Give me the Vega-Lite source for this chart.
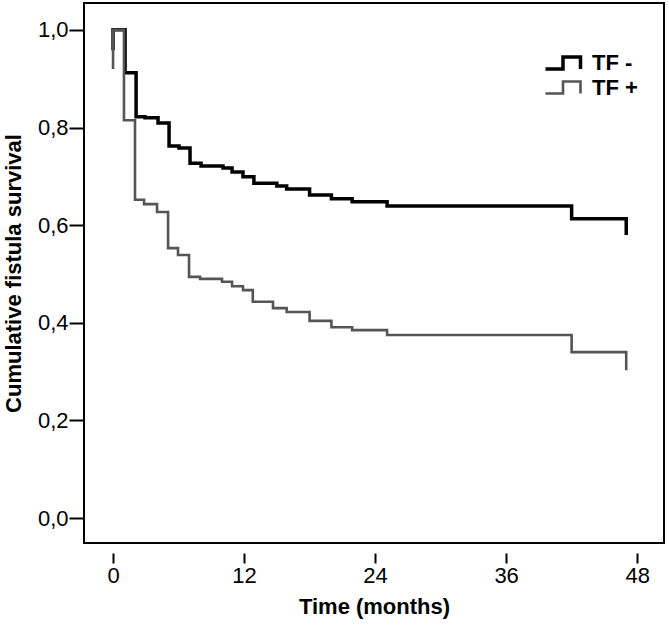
{
  "$schema": "https://vega.github.io/schema/vega-lite/v6.json",
  "width": 580,
  "height": 540,
  "autosize": "none",
  "padding": {"left": 84, "top": 3, "right": 5, "bottom": 84},
  "background": "white",
  "config": {
    "view": {"stroke": "black", "strokeWidth": 2},
    "font": "Liberation Sans"
  },
  "data": {
    "values": [
      {"group": "TF -", "i": 1, "months": 0, "survival": 0.958},
      {"group": "TF -", "i": 2, "months": 0, "survival": 1.0},
      {"group": "TF -", "i": 3, "months": 1.1, "survival": 0.912},
      {"group": "TF -", "i": 4, "months": 2.11, "survival": 0.822},
      {"group": "TF -", "i": 5, "months": 2.93, "survival": 0.82},
      {"group": "TF -", "i": 6, "months": 4.12, "survival": 0.809},
      {"group": "TF -", "i": 7, "months": 5.13, "survival": 0.762},
      {"group": "TF -", "i": 8, "months": 6.04, "survival": 0.758},
      {"group": "TF -", "i": 9, "months": 7.05, "survival": 0.727},
      {"group": "TF -", "i": 10, "months": 8.06, "survival": 0.721},
      {"group": "TF -", "i": 11, "months": 10.07, "survival": 0.717},
      {"group": "TF -", "i": 12, "months": 10.9, "survival": 0.709},
      {"group": "TF -", "i": 13, "months": 11.9, "survival": 0.699},
      {"group": "TF -", "i": 14, "months": 12.9, "survival": 0.686},
      {"group": "TF -", "i": 15, "months": 15.0, "survival": 0.68},
      {"group": "TF -", "i": 16, "months": 15.9, "survival": 0.674},
      {"group": "TF -", "i": 17, "months": 18.0, "survival": 0.662},
      {"group": "TF -", "i": 18, "months": 20.0, "survival": 0.654},
      {"group": "TF -", "i": 19, "months": 21.9, "survival": 0.648},
      {"group": "TF -", "i": 20, "months": 25.1, "survival": 0.639},
      {"group": "TF -", "i": 21, "months": 42.0, "survival": 0.613},
      {"group": "TF -", "i": 22, "months": 47.0, "survival": 0.58},
      {"group": "TF +", "i": 1, "months": 0, "survival": 0.92},
      {"group": "TF +", "i": 2, "months": 0, "survival": 1.0},
      {"group": "TF +", "i": 3, "months": 1.0, "survival": 0.815},
      {"group": "TF +", "i": 4, "months": 2.01, "survival": 0.652},
      {"group": "TF +", "i": 5, "months": 2.84, "survival": 0.643},
      {"group": "TF +", "i": 6, "months": 4.03, "survival": 0.627},
      {"group": "TF +", "i": 7, "months": 5.04, "survival": 0.553},
      {"group": "TF +", "i": 8, "months": 5.95, "survival": 0.539},
      {"group": "TF +", "i": 9, "months": 6.96, "survival": 0.494},
      {"group": "TF +", "i": 10, "months": 7.97, "survival": 0.49},
      {"group": "TF +", "i": 11, "months": 9.98, "survival": 0.484},
      {"group": "TF +", "i": 12, "months": 10.9, "survival": 0.475},
      {"group": "TF +", "i": 13, "months": 11.9, "survival": 0.467},
      {"group": "TF +", "i": 14, "months": 12.8, "survival": 0.443},
      {"group": "TF +", "i": 15, "months": 14.65, "survival": 0.43},
      {"group": "TF +", "i": 16, "months": 15.9, "survival": 0.422},
      {"group": "TF +", "i": 17, "months": 18.0, "survival": 0.404},
      {"group": "TF +", "i": 18, "months": 20.0, "survival": 0.391},
      {"group": "TF +", "i": 19, "months": 21.9, "survival": 0.385},
      {"group": "TF +", "i": 20, "months": 25.1, "survival": 0.375},
      {"group": "TF +", "i": 21, "months": 42.0, "survival": 0.34},
      {"group": "TF +", "i": 22, "months": 47.0, "survival": 0.303}
    ]
  },
  "mark": {"type": "line", "interpolate": "step-after", "strokeJoin": "miter", "strokeCap": "butt"},
  "encoding": {
    "x": {
      "field": "months",
      "type": "quantitative",
      "scale": {"domain": [-2.66, 50.46], "nice": false, "zero": false},
      "axis": {
        "values": [0, 12, 24, 36, 48],
        "offset": 10,
        "tickSize": 10,
        "tickWidth": 2,
        "tickColor": "black",
        "domain": false,
        "grid": false,
        "labelFontSize": 22,
        "labelColor": "black",
        "labelPadding": 2,
        "title": "Time (months)",
        "titleFontSize": 22,
        "titleFontWeight": "bold",
        "titleColor": "black",
        "titlePadding": 10
      }
    },
    "y": {
      "field": "survival",
      "type": "quantitative",
      "scale": {"domain": [-0.051, 1.055], "nice": false, "zero": false},
      "axis": {
        "values": [0, 0.2, 0.4, 0.6, 0.8, 1.0],
        "labelExpr": "replace(format(datum.value, '.1f'), '.', ',')",
        "tickSize": 15,
        "tickWidth": 2,
        "tickColor": "black",
        "domain": false,
        "grid": false,
        "labelFontSize": 22,
        "labelColor": "black",
        "labelPadding": 1,
        "title": "Cumulative fistula survival",
        "titleFontSize": 22,
        "titleFontWeight": "bold",
        "titleColor": "black",
        "titlePadding": 12
      }
    },
    "color": {
      "field": "group",
      "type": "nominal",
      "scale": {"domain": ["TF -", "TF +"], "range": ["#000000", "#555555"]},
      "legend": {
        "orient": "none",
        "legendX": 467,
        "legendY": 48,
        "title": null,
        "labelFontSize": 22,
        "labelFontWeight": "bold",
        "labelColor": "black",
        "symbolType": "M-1.75,0.6H0V-0.6H1.75V0.6",
        "symbolSize": 400,
        "symbolStrokeWidth": 3,
        "symbolFillColor": "transparent",
        "labelOffset": 17,
        "rowPadding": -1
      }
    },
    "strokeWidth": {
      "field": "group",
      "type": "nominal",
      "scale": {"domain": ["TF -", "TF +"], "range": [3.5, 2.6]},
      "legend": null
    },
    "order": {"field": "i", "type": "quantitative"}
  }
}
